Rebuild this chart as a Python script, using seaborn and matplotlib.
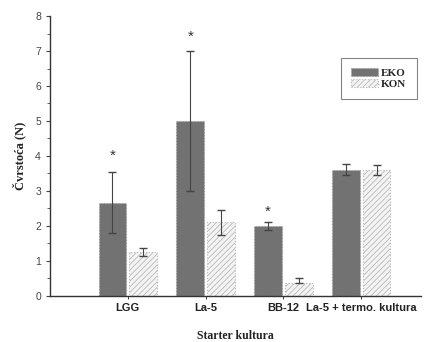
import pandas as pd
import numpy as np
import matplotlib
matplotlib.use("Agg")
import matplotlib.pyplot as plt
import seaborn as sns
from matplotlib.ticker import MultipleLocator

# podaci očitani sa slike
kulture = ['LGG', 'La-5', 'BB-12', 'La-5 + termo. kultura']
eko = [2.65, 5.0, 2.0, 3.6]
kon = [1.25, 2.1, 0.38, 3.6]
eko_gore = [3.55, 7.0, 2.12, 3.77]
eko_dole = [1.8, 3.0, 1.88, 3.45]
kon_gore = [1.38, 2.45, 0.5, 3.75]
kon_dole = [1.15, 1.75, 0.38, 3.45]
zvjezdice = [4.0, 7.4, 2.4]

df = pd.DataFrame({
    'Kultura': kulture * 2,
    'Tretman': ['EKO'] * 4 + ['KON'] * 4,
    'Cvrstoca': eko + kon,
})

sns.set_theme(style="ticks")
plt.rcParams['font.family'] = ['Liberation Sans', 'DejaVu Sans']
plt.rcParams['hatch.color'] = '#b5b5b5'
plt.rcParams['hatch.linewidth'] = 0.6

fig = plt.figure(figsize=(4.31, 3.42), dpi=100)
ax = fig.add_axes([0.116, 0.135, 0.861, 0.818])

sns.barplot(data=df, x='Kultura', y='Cvrstoca', hue='Tretman',
            palette=['#727272', '#f2f2f2'], width=0.79, gap=0.1,
            errorbar=None, ax=ax, legend=False)

# EKO = prvi skup stupaca, KON = drugi
patches = ax.patches[:8]
for i, p in enumerate(patches):
    if i < 4:
        p.set_edgecolor('#9a9a9a')
        p.set_linestyle(':')
        p.set_linewidth(0.8)
    else:
        p.set_facecolor('#f4f4f4')
        p.set_edgecolor('#b8b8b8')
        p.set_hatch('//////')
        p.set_linewidth(0.8)
        p.set_linestyle(':')

x_eko = [p.get_x() + p.get_width() / 2 for p in patches[:4]]
x_kon = [p.get_x() + p.get_width() / 2 for p in patches[4:]]

ax.errorbar(x_eko, eko,
            yerr=[np.array(eko) - np.array(eko_dole), np.array(eko_gore) - np.array(eko)],
            fmt='none', ecolor='#444444', elinewidth=0.8, capsize=3, capthick=1)
ax.errorbar(x_kon, kon,
            yerr=[np.array(kon) - np.array(kon_dole), np.array(kon_gore) - np.array(kon)],
            fmt='none', ecolor='#444444', elinewidth=0.8, capsize=3, capthick=1)

for xi, yi in zip(x_eko[:3], zvjezdice):
    ax.text(xi, yi, '*', ha='center', va='center', fontsize=11, color='#333333')

ax.set_xlim(-1.0, 3.77)
ax.set_ylim(0, 8)
ax.yaxis.set_major_locator(MultipleLocator(1))
ax.yaxis.set_minor_locator(MultipleLocator(0.5))
ax.tick_params(axis='y', labelsize=7.5, colors='#444444', length=3, width=0.8)
ax.tick_params(axis='y', which='minor', length=2, width=0.6, color='#444444')
ax.tick_params(axis='x', labelsize=8, length=2, width=0.6, colors='#222222')
for lbl in ax.get_xticklabels():
    lbl.set_fontweight('bold')

ax.set_xlabel('Starter kultura', fontsize=8.5, fontweight='bold',
              family=['Liberation Serif', 'DejaVu Serif'], color='#222222', labelpad=12)
ax.set_ylabel('Čvrstoća (N)', fontsize=9, fontweight='bold',
              family=['Liberation Serif', 'DejaVu Serif'], color='#222222', labelpad=6)

sns.despine(ax=ax)
for s in ['left', 'bottom']:
    ax.spines[s].set_color('#333333')
    ax.spines[s].set_linewidth(1.0)

leg = ax.legend(handles=[patches[0], patches[4]], labels=['EKO', 'KON'],
                loc='upper left', bbox_to_anchor=(0.77, 0.87),
                prop={'family': ['Liberation Serif', 'DejaVu Serif'], 'size': 8, 'weight': 'bold'},
                frameon=True, fancybox=False, handlelength=2.4, handleheight=0.7,
                handletextpad=0.3, borderpad=0.9, labelspacing=0.15)
leg.get_frame().set_edgecolor('#666666')
leg.get_frame().set_linewidth(0.8)

fig.savefig('out.png', dpi=100)
